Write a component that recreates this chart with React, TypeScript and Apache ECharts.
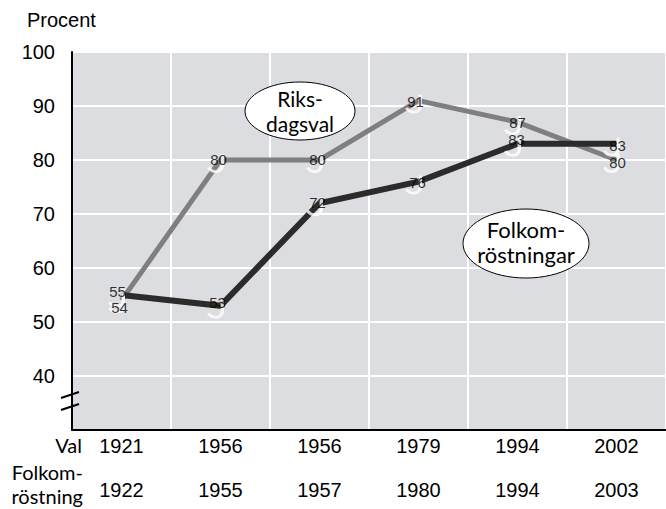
import React, { useEffect, useRef } from "react";
import * as echarts from "echarts";

const valYears = ["1921", "1956", "1956", "1979", "1994", "2002"];
const folkYears = ["1922", "1955", "1957", "1980", "1994", "2003"];
const riksdagsval = [54, 80, 80, 91, 87, 80];
const folkomrostningar = [55, 53, 72, 76, 83, 83];
const yMin = 30;
const yMax = 100;
const yStep = 10;

const riksLabelOffsets = [[-2, 7], [-2, -1], [-2, -1], [-3, 1], [0, 0], [1, 2]];
const folkLabelOffsets = [[-4, -4], [-3, -3], [-2, -1], [-1, 1], [-1, -4], [1, 2]];

const J_PATH =
  "path://M12 0 L15 0 L15 11 C15 15.5 12 19 8 19 C4.5 19 1.5 17 0 14 L2.6 12.8 C3.6 14.8 5.6 16.2 8 16.2 C10.5 16.2 12 14 12 11 Z";

const ARIAL = "Liberation Sans";
const MYRIAD = "Lato";

export default function App() {
  const ref = useRef<HTMLDivElement>(null);
  useEffect(() => {
    if (!ref.current) return;
    const chart = echarts.init(ref.current, null, { renderer: "svg" });
    const jSeries = (vals: number[]) => ({
      type: "scatter",
      z: 3,
      silent: true,
      symbol: J_PATH,
      symbolSize: [17, 19],
      symbolKeepAspect: false,
      symbolOffset: [-5, 3.5],
      itemStyle: { color: "#ffffff" },
      data: vals,
    });
    const labelSeries = (vals: number[], offs: number[][]) => ({
      type: "scatter",
      z: 4,
      silent: true,
      symbol: "circle",
      symbolSize: 1,
      itemStyle: { color: "rgba(0,0,0,0)" },
      label: {
        show: true,
        position: "inside",
        color: "#000000",
        textBorderWidth: 0,
        fontFamily: ARIAL,
        fontSize: 15,
        formatter: (p: any) => String(p.value),
      },
      data: vals.map((v, i) => ({ value: v, label: { offset: offs[i] } })),
    });
    chart.setOption({
      animation: false,
      backgroundColor: "#ffffff",
      grid: {
        left: 72,
        top: 52,
        width: 604,
        height: 378,
        show: true,
        backgroundColor: "#dcdde0",
        borderWidth: 0,
      },
      xAxis: [
        {
          type: "category",
          data: valYears,
          boundaryGap: true,
          axisLine: { show: true, lineStyle: { color: "#000", width: 2 } },
          axisTick: { show: false },
          axisLabel: { color: "#000", fontFamily: ARIAL, fontSize: 20, margin: 6 },
          splitLine: { show: true, lineStyle: { color: "#ffffff", width: 2 } },
        },
        {
          type: "category",
          data: folkYears,
          position: "bottom",
          offset: 44,
          boundaryGap: true,
          axisLine: { show: false },
          axisTick: { show: false },
          axisLabel: { color: "#000", fontFamily: ARIAL, fontSize: 20, margin: 6 },
          splitLine: { show: false },
        },
      ],
      yAxis: {
        type: "value",
        min: yMin,
        max: yMax,
        interval: yStep,
        axisLine: { show: true, lineStyle: { color: "#000", width: 2 } },
        axisTick: { show: false },
        axisLabel: {
          color: "#000",
          fontFamily: ARIAL,
          fontSize: 20,
          margin: 17,
          formatter: (v: number) => (v === yMin ? "" : String(v)),
        },
        splitLine: { show: true, lineStyle: { color: "#ffffff", width: 2 } },
      },
      series: [
        {
          type: "line",
          name: "Riksdagsval",
          z: 2,
          symbol: "none",
          lineStyle: { color: "#7f7f7f", width: 5, join: "miter" },
          data: riksdagsval,
        },
        {
          type: "line",
          name: "Folkomröstningar",
          z: 2,
          symbol: "none",
          lineStyle: { color: "#2b2b2b", width: 6, join: "miter" },
          data: folkomrostningar,
        },
        jSeries(riksdagsval),
        jSeries(folkomrostningar),
        labelSeries(riksdagsval, riksLabelOffsets),
        labelSeries(folkomrostningar, folkLabelOffsets),
      ],
      graphic: [
        {
          type: "text",
          left: 27,
          top: 10,
          style: { text: "Procent", fill: "#000", fontFamily: ARIAL, fontSize: 20 },
        },
        {
          type: "line",
          shape: { x1: 61, y1: 398, x2: 79, y2: 392 },
          style: { stroke: "#000", lineWidth: 2 },
        },
        {
          type: "line",
          shape: { x1: 61, y1: 410, x2: 79, y2: 404 },
          style: { stroke: "#000", lineWidth: 2 },
        },
        {
          type: "ellipse",
          shape: { cx: 300, cy: 111, rx: 55, ry: 29 },
          style: { fill: "#ffffff", stroke: "#000", lineWidth: 1 },
          z: 10,
        },
        {
          type: "text",
          x: 300,
          y: 111,
          z: 11,
          style: {
            text: "Riks-\ndagsval",
            fill: "#000",
            fontFamily: MYRIAD,
            fontSize: 21,
            align: "center",
            verticalAlign: "middle",
            lineHeight: 25,
          },
        },
        {
          type: "ellipse",
          shape: { cx: 526, cy: 243.5, rx: 63, ry: 34.5 },
          style: { fill: "#ffffff", stroke: "#000", lineWidth: 1 },
          z: 10,
        },
        {
          type: "text",
          x: 526,
          y: 242,
          z: 11,
          style: {
            text: "Folkom-\nröstningar",
            fill: "#000",
            fontFamily: MYRIAD,
            fontSize: 22,
            align: "center",
            verticalAlign: "middle",
            lineHeight: 25,
          },
        },
        {
          type: "text",
          x: 82,
          y: 445,
          style: {
            text: "Val",
            fill: "#000",
            fontFamily: MYRIAD,
            fontSize: 20,
            align: "right",
            verticalAlign: "middle",
          },
        },
        {
          type: "text",
          x: 83,
          y: 484,
          style: {
            text: "Folkom-\nröstning",
            fill: "#000",
            fontFamily: MYRIAD,
            fontSize: 20,
            align: "right",
            verticalAlign: "middle",
            lineHeight: 24,
          },
        },
      ],
    });
    return () => chart.dispose();
  }, []);
  return (
    <div
      ref={ref}
      style={{ position: "fixed", left: 0, top: 0, width: 666, height: 509 }}
    />
  );
}
